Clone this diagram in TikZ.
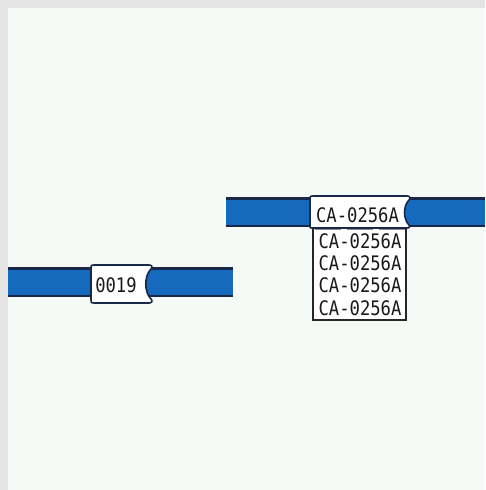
\documentclass[tikz,border=0pt]{standalone}
\usepackage{fontspec}
\newfontfamily\tagfont[FakeStretch=0.86]{DejaVu Sans Mono}
\definecolor{wireblue}{RGB}{22,106,190}
\definecolor{wireedge}{RGB}{25,40,70}
\definecolor{paper}{RGB}{246,250,247}
\definecolor{framegray}{RGB}{228,228,228}
\tikzset{
  wire/.style={draw=wireedge, line width=2.5pt, double=wireblue, double distance=25pt},
  sleeve/.style={fill=white, draw=wireedge, line width=1.6pt, line join=round},
  listbox/.style={fill=white, draw=black!85, line width=1.3pt},
  tagtext/.style={font=\tagfont\fontsize{20}{20}\selectfont, text=black!90, inner sep=0pt},
}
\begin{document}
\begin{tikzpicture}[x=1pt, y=-1pt]
          \useasboundingbox (0,0) rectangle (485,490);
          \fill[framegray] (0,0) rectangle (485,490);
          \fill[paper] (8,8) rectangle (485,490);
          % wires
          \coordinate (lowW) at (8,282);
          \coordinate (lowE) at (233,282);
          \coordinate (upW) at (226,212);
          \coordinate (upE) at (485,212);
          \draw[wire] (lowW) -- (lowE);
          \draw[wire] (upW) -- (upE);
          % marker on the short wire
          \draw[sleeve] (94,265) -- (149,265) .. controls (152,265) and (153,267) .. (151,269)
            .. controls (144,276) and (144,292) .. (151,299) .. controls (153,301) and (152,303) .. (149,303)
            -- (94,303) .. controls (91,303) .. (91,300) -- (91,268) .. controls (91,265) .. (94,265) -- cycle;
          \draw (116,285) node[tagtext](tagA){0019};
          % marker with its list
          \draw[listbox] (313,228) rectangle (406,320);
          \draw[sleeve] (313,196) -- (407,196) .. controls (410,196) and (411,198) .. (409,200)
            .. controls (403,206) and (403,219) .. (409,225) .. controls (410,226) and (410,228) .. (407,228)
            -- (312,228) .. controls (310,228) .. (310,226) -- (310,199) .. controls (310,196) .. (313,196) -- cycle;
          \draw[black!45, line width=1pt, dash pattern=on 26pt off 6pt] (315,229.5) -- (405,229.5);
          \draw (357.5,215) node[tagtext](tagB){CA-0256A};
          \foreach \i in {0,...,3}
            \draw (360,241+22.3*\i) node[tagtext](row\i){CA-0256A};
        \end{tikzpicture}
\end{document}
